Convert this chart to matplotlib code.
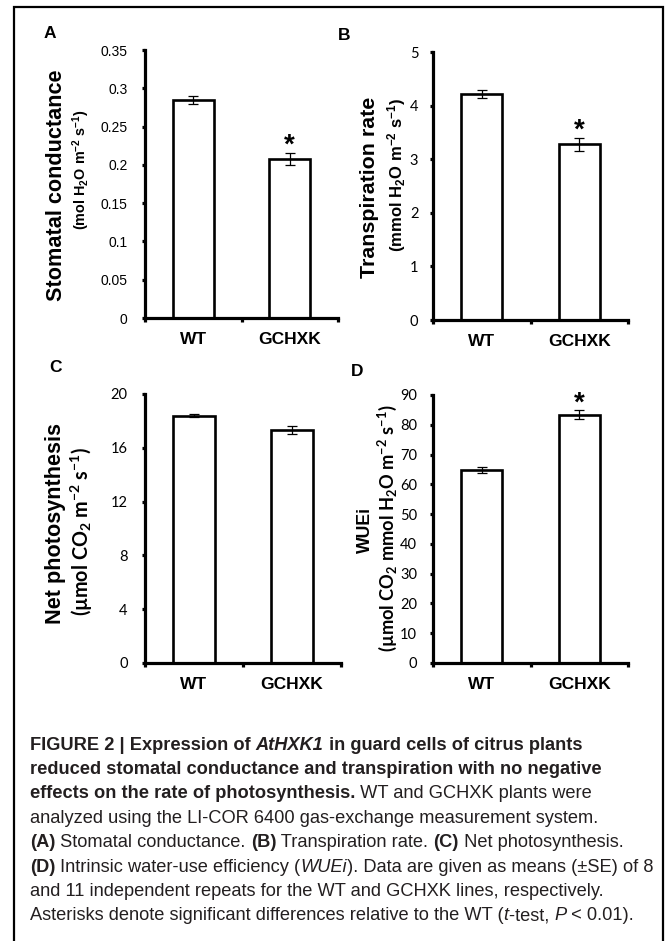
import matplotlib
matplotlib.use("Agg")
import matplotlib.pyplot as plt
from matplotlib.patches import Rectangle

W, H = 672, 941

groups = ["WT", "GCHXK"]

# (A) stomatal conductance
cond_mean = [0.285, 0.208]
cond_se = [0.005, 0.008]
cond_sig = [False, True]
cond_ticks = [0, 0.05, 0.1, 0.15, 0.2, 0.25, 0.3, 0.35]
cond_labels = ["0", "0.05", "0.1", "0.15", "0.2", "0.25", "0.3", "0.35"]

# (B) transpiration rate
trans_mean = [4.22, 3.28]
trans_se = [0.08, 0.12]
trans_sig = [False, True]
trans_ticks = [0, 1, 2, 3, 4, 5]
trans_labels = ["0", "1", "2", "3", "4", "5"]

# (C) net photosynthesis
photo_mean = [18.4, 17.3]
photo_se = [0.1, 0.3]
photo_sig = [False, False]
photo_ticks = [0, 4, 8, 12, 16, 20]
photo_labels = ["0", "4", "8", "12", "16", "20"]

# (D) intrinsic water-use efficiency
wue_mean = [64.7, 83.3]
wue_se = [1.0, 1.5]
wue_sig = [False, True]
wue_ticks = [0, 10, 20, 30, 40, 50, 60, 70, 80, 90]
wue_labels = ["0", "10", "20", "30", "40", "50", "60", "70", "80", "90"]

caption_lines = [
    [("FIGURE 2 | Expression of ", "bold", "normal"), ("AtHXK1", "bold", "italic"),
     (" in guard cells of citrus plants", "bold", "normal")],
    [("reduced stomatal conductance and transpiration with no negative", "bold", "normal")],
    [("effects on the rate of photosynthesis.", "bold", "normal"),
     (" WT and GCHXK plants were", "normal", "normal")],
    [("analyzed using the LI-COR 6400 gas-exchange measurement system.", "normal", "normal")],
    [("(A)", "bold", "normal"), (" Stomatal conductance. ", "normal", "normal"),
     ("(B)", "bold", "normal"), (" Transpiration rate. ", "normal", "normal"),
     ("(C)", "bold", "normal"), (" Net photosynthesis.", "normal", "normal")],
    [("(D)", "bold", "normal"), (" Intrinsic water-use efficiency (", "normal", "normal"),
     ("WUEi", "normal", "italic"), ("). Data are given as means (\u00b1SE) of 8", "normal", "normal")],
    [("and 11 independent repeats for the WT and GCHXK lines, respectively.", "normal", "normal")],
    [("Asterisks denote significant differences relative to the WT (", "normal", "normal"),
     ("t", "normal", "italic"), ("-test, ", "normal", "normal"), ("P", "normal", "italic"),
     (" < 0.01).", "normal", "normal")],
]
caption_right = [588, 616, 594, 569, 641, 639, 617, 630]

ARIAL = "Liberation Sans"
CALIBRI = "Lato"

plt.rcParams["mathtext.default"] = "regular"

fig = plt.figure(figsize=(W / 100, H / 100), dpi=100)
renderer = fig.canvas.get_renderer()


def px(x, y):
    return x / W, 1 - y / H


def fit_text(x, y, s, length, rotation=0, size=12, **kw):
    t = fig.text(*px(x, y), s, rotation=rotation, fontsize=size,
                 ha="center", va="center", **kw)
    bb = t.get_window_extent(renderer)
    cur = bb.height if rotation == 90 else bb.width
    t.set_fontsize(size * length / cur)
    return t


def panel(box, means, se, sig, ticks, labels, tick_font, tick_size, tick_pad):
    l, t, r, b = box
    ax = fig.add_axes([l / W, 1 - b / H, (r - l) / W, (b - t) / H])
    x = list(range(len(groups)))
    ax.bar(x, means, width=0.42, color="white", edgecolor="black",
           linewidth=1.9, zorder=2)
    ax.errorbar(x, means, yerr=se, fmt="none", ecolor="black",
                elinewidth=0.9, capsize=3.5, capthick=0.9, zorder=3)
    for i, s in enumerate(sig):
        if s:
            ax.annotate("*", (x[i], means[i] + se[i]), xytext=(0, 5),
                        textcoords="offset points", ha="center", va="center",
                        fontsize=20, fontweight="bold", family=ARIAL)
    ax.set_xlim(-0.5, 1.5)
    ax.set_ylim(ticks[0], ticks[-1])
    for side in ["top", "right"]:
        ax.spines[side].set_visible(False)
    for side in ["left", "bottom"]:
        ax.spines[side].set_linewidth(2.3)
    ax.set_yticks(ticks)
    ax.set_yticklabels(labels, family=tick_font, fontsize=tick_size)
    ax.tick_params(axis="y", length=2.5, width=2.3, pad=tick_pad)
    ax.set_xticks(x)
    ax.set_xticklabels(groups, fontweight="bold", fontsize=12.5, family=ARIAL)
    ax.set_xticks([-0.5, 0.5, 1.5], minor=True)
    ax.tick_params(axis="x", which="major", length=0, pad=10)
    ax.tick_params(axis="x", which="minor", length=3, width=2.3)
    ax.patch.set_alpha(0)
    return ax


panel((145, 50, 338, 318), cond_mean, cond_se, cond_sig, cond_ticks, cond_labels, ARIAL, 10, 10)
panel((433, 52, 628, 320), trans_mean, trans_se, trans_sig, trans_ticks, trans_labels, CALIBRI, 10.5, 8)
panel((145, 394, 341, 663), photo_mean, photo_se, photo_sig, photo_ticks, photo_labels, CALIBRI, 10.5, 10)
panel((433, 395, 628, 663), wue_mean, wue_se, wue_sig, wue_ticks, wue_labels, CALIBRI, 10.5, 9)

# axis titles
fit_text(57, 185, "Stomatal conductance", 230, 90, fontweight="bold", family=ARIAL)
fit_text(81, 170, "(mol H$_2$O m$^{-2}$ s$^{-1}$)", 120, 90, fontweight="bold", family=ARIAL)
fit_text(369, 187, "Transpiration rate", 180, 90, fontweight="bold", family=ARIAL)
fit_text(397, 175, "(mmol H$_2$O m$^{-2}$ s$^{-1}$)", 154, 90, fontweight="bold", family=ARIAL)
fit_text(55, 523, "Net photosynthesis", 200, 90, fontweight="bold", family=ARIAL)
fit_text(82, 532, "(\u00b5mol CO$_2$ m$^{-2}$ s$^{-1}$)", 169, 90, fontweight="bold", family=CALIBRI)
fit_text(365, 530, "WUEi", 46, 90, fontweight="bold", family=ARIAL)
fit_text(387, 528, "(\u00b5mol CO$_2$ mmol H$_2$O m$^{-2}$ s$^{-1}$)", 247, 90,
         fontweight="bold", family=CALIBRI)

# panel letters
for letter, lx, ly in [("A", 50, 33), ("B", 344, 36), ("C", 55, 368), ("D", 357, 371)]:
    fig.text(*px(lx, ly), letter, fontsize=12.5, fontweight="bold", family=ARIAL,
             ha="center", va="center")

# frame around the figure
fig.add_artist(Rectangle((14 / W, -0.05), (663 - 14) / W, 1.05 - 7 / H,
                         transform=fig.transFigure, fill=False,
                         edgecolor="black", linewidth=1.6))


# caption
def seg_width(s, size, weight, style):
    t = fig.text(0, 0, "|" + s + "|", fontsize=size, fontweight=weight,
                 fontstyle=style, family=ARIAL)
    w1 = t.get_window_extent(renderer).width
    t.set_text("||")
    w0 = t.get_window_extent(renderer).width
    t.remove()
    return w1 - w0


cap_left = 30
natural = [sum(seg_width(s, 10, w, st) for s, w, st in line) for line in caption_lines]
cap_size = 10 * sum(r - cap_left for r in caption_right) / sum(natural)

y0, dy = 745, 24.4
for i, line in enumerate(caption_lines):
    xx = cap_left
    for s, w, st in line:
        fig.text(*px(xx, y0 + i * dy), s, fontsize=cap_size, fontweight=w,
                 fontstyle=st, family=ARIAL, ha="left", va="center",
                 color="#231f20")
        xx += seg_width(s, cap_size, w, st)

fig.savefig("out.png", dpi=100)
